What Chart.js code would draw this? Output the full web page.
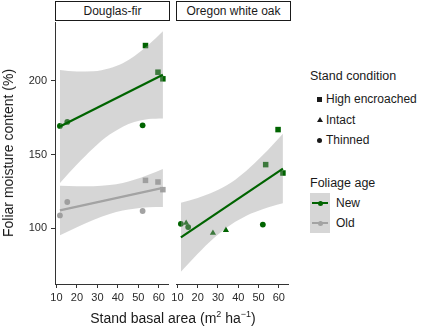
<!DOCTYPE html>
<html><head><meta charset="utf-8">
<script src="https://cdn.jsdelivr.net/npm/chart.js@4"></script>
<style>
html,body{margin:0;padding:0}
body{width:421px;height:329px;background:#fff;position:relative;overflow:hidden;font-family:"Liberation Sans",Arial,Helvetica,sans-serif;color:#1a1a1a}
.abs{position:absolute;white-space:nowrap}
canvas{position:absolute;top:0}
.strip{position:absolute;top:1px;height:20px;box-sizing:border-box;border:1px solid #1a1a1a;background:#fff;font-size:12px;line-height:18px;text-align:center}
.lt{font-size:12.5px;line-height:14px}
.li{font-size:12px;line-height:14px}
.sym{position:absolute;background:#1a1a1a}
.key{position:absolute;left:310px;width:20px;height:20px;background:#d6d6d6}
.key .ln{position:absolute;left:2px;top:9px;width:16px;height:2px}
.key .pt{position:absolute;left:7.5px;top:7.5px;width:5px;height:5px;border-radius:50%}
</style>
</head><body>
<canvas id="c1" width="172" height="310" style="left:0px"></canvas>
<canvas id="c2" width="127" height="310" style="left:165px"></canvas>

<div class="strip" style="left:55px;width:115px">Douglas-fir</div>
<div class="strip" style="left:176px;width:115px">Oregon white oak</div>

<div class="abs" style="left:8px;top:153px;font-size:14px;line-height:16px;transform:translate(-50%,-50%) rotate(-90deg)">Foliar moisture content (%)</div>
<div class="abs" style="left:173px;top:318px;font-size:14px;line-height:16px;transform:translate(-50%,-50%)">Stand basal area (m<sup style="font-size:9px;line-height:0">2</sup> ha<sup style="font-size:9px;line-height:0">−1</sup>)</div>

<div class="abs lt" style="left:310px;top:69px">Stand condition</div>
<div class="sym" style="left:317px;top:97px;width:5px;height:5px"></div>
<div class="abs li" style="left:326px;top:92px">High encroached</div>
<div class="abs" style="left:316.5px;top:117px;width:0;height:0;border-left:3px solid transparent;border-right:3px solid transparent;border-bottom:5px solid #1a1a1a"></div>
<div class="abs li" style="left:326px;top:113px">Intact</div>
<div class="sym" style="left:317px;top:137.5px;width:5px;height:5px;border-radius:50%"></div>
<div class="abs li" style="left:326px;top:133px">Thinned</div>

<div class="abs lt" style="left:310px;top:176px">Foliage age</div>
<div class="key" style="top:193px"><div class="ln" style="background:#006400"></div><div class="pt" style="background:#006400"></div></div>
<div class="key" style="top:213px"><div class="ln" style="background:#a3a3a3"></div><div class="pt" style="background:#a3a3a3"></div></div>
<div class="abs li" style="left:336px;top:196px">New</div>
<div class="abs li" style="left:336px;top:216px">Old</div>

<script>
// ---------- data ----------
const xTicks = [10, 20, 30, 40, 50, 60];
const yTicks = [100, 150, 200];

// Douglas-fir
const dfBasal     = [11.7, 15.3, 52.1, 53.5, 59.6, 62.0];
const dfCondition = ['Thinned', 'Thinned', 'Thinned', 'High encroached', 'High encroached', 'High encroached'];
const dfNew       = [169.4, 172.1, 169.8, 224.0, 205.9, 201.4];
const dfOld       = [108.6, 117.7, 111.6, 132.4, 131.3, 126.1];

// Oregon white oak
const owoBasal     = [11.7, 15.3, 52.1, 14.3, 27.5, 33.9, 53.5, 59.6, 62.0];
const owoCondition = ['Thinned', 'Thinned', 'Thinned', 'Intact', 'Intact', 'Intact', 'High encroached', 'High encroached', 'High encroached'];
const owoNew       = [102.9, 100.7, 102.4, 103.4, 96.6, 98.6, 143.1, 166.9, 137.4];

// fitted lines (ends) and confidence bands
const fitX      = [11.7, 62.0];
const dfNewFit  = [169.0, 204.1];
const dfOldFit  = [112.0, 127.3];
const owoNewFit = [93.7, 140.4];

const dfBandX = [11.7, 20, 28, 36, 42.4, 48, 55, 62];
const dfNewLo = [130.6, 143.2, 154.3, 163.5, 168.9, 172.1, 174.1, 174.5];
const dfNewHi = [207.4, 206.4, 206.5, 208.5, 211.9, 216.7, 224.5, 233.7];
const dfOldLo = [95.1, 100.6, 105.4, 109.5, 111.9, 113.2, 114.1, 114.3];
const dfOldHi = [128.8, 128.4, 128.4, 129.2, 130.7, 132.8, 136.2, 140.2];

const owoBandX = [11.7, 20, 28, 36.7, 44, 52, 57, 62];
const owoNewLo = [70.3, 82.5, 93.2, 102.6, 108.4, 112.8, 115.0, 116.8];
const owoNewHi = [117.2, 120.4, 124.6, 131.2, 139.0, 149.4, 156.6, 164.0];

// ---------- styling ----------
const FONT = '"Liberation Sans", Arial, Helvetica, sans-serif';
const AXIS = '#333333';
const NEW_C = '#006400';
const OLD_C = '#a3a3a3';
const BAND = 'rgba(153,153,153,0.4)';
const X_MIN = 9.3, X_MAX = 64.5, Y_MIN = 62, Y_MAX = 240;
const shapeStyle = {'High encroached': 'rect', 'Intact': 'triangle', 'Thinned': 'circle'};
const shapeRadius = {'High encroached': 3.9, 'Intact': 3.6, 'Thinned': 2.9};

const pts = (xs, ys) => xs.map((x, i) => ({x, y: ys[i]}));

function pointSet(xs, ys, cond, color) {
  return {
    data: pts(xs, ys), showLine: false, order: 3,
    pointStyle: cond.map(c => shapeStyle[c]),
    pointRadius: cond.map(c => shapeRadius[c]),
    pointBackgroundColor: color, pointBorderColor: color, pointBorderWidth: 0
  };
}
function bandSets(xs, lo, hi) {
  return [
    {data: pts(xs, hi), fill: '+1', backgroundColor: BAND, borderWidth: 0, pointRadius: 0,
     cubicInterpolationMode: 'monotone', order: 1},
    {data: pts(xs, lo), fill: false, borderWidth: 0, pointRadius: 0,
     cubicInterpolationMode: 'monotone', order: 2}
  ];
}
function fitSet(ys, color) {
  return {data: pts(fitX, ys), borderColor: color, borderWidth: 2.2, pointRadius: 0, fill: false, order: 0};
}

function makeChart(id, datasets, showY, padLeft, padRight) {
  return new Chart(document.getElementById(id), {
    type: 'line',
    data: {datasets},
    options: {
      responsive: false, animation: false, devicePixelRatio: 1,
      layout: {padding: {top: 22, left: padLeft, right: padRight, bottom: 0}},
      plugins: {legend: {display: false}, tooltip: {enabled: false}},
      scales: {
        x: {
          type: 'linear', min: X_MIN, max: X_MAX,
          afterFit: s => { s.height = 26; },
          afterBuildTicks: s => { s.ticks = xTicks.map(v => ({value: v})); },
          grid: {drawOnChartArea: false, drawTicks: true, tickLength: 4, color: AXIS, lineWidth: 1},
          border: {display: true, color: AXIS, width: 1},
          ticks: {padding: 3, color: '#2b2b2b', font: {size: 11, family: FONT}, maxRotation: 0, autoSkip: false}
        },
        y: {
          type: 'linear', min: Y_MIN, max: Y_MAX, display: showY,
          afterFit: s => { s.width = showY ? 55 : 0; },
          afterBuildTicks: s => { s.ticks = yTicks.map(v => ({value: v})); },
          grid: {drawOnChartArea: false, drawTicks: true, tickLength: 4, color: AXIS, lineWidth: 1},
          border: {display: true, color: AXIS, width: 1},
          ticks: {padding: 4, color: '#2b2b2b', font: {size: 11, family: FONT}}
        }
      }
    }
  });
}

makeChart('c1', [
  pointSet(dfBasal, dfNew, dfCondition, NEW_C),
  pointSet(dfBasal, dfOld, dfCondition, OLD_C),
  ...bandSets(dfBandX, dfNewLo, dfNewHi),
  ...bandSets(dfBandX, dfOldLo, dfOldHi),
  fitSet(dfNewFit, NEW_C),
  fitSet(dfOldFit, OLD_C)
], true, 0, 2);

makeChart('c2', [
  pointSet(owoBasal, owoNew, owoCondition, NEW_C),
  ...bandSets(owoBandX, owoNewLo, owoNewHi),
  fitSet(owoNewFit, NEW_C)
], false, 11, 1);
</script>
</body></html>
